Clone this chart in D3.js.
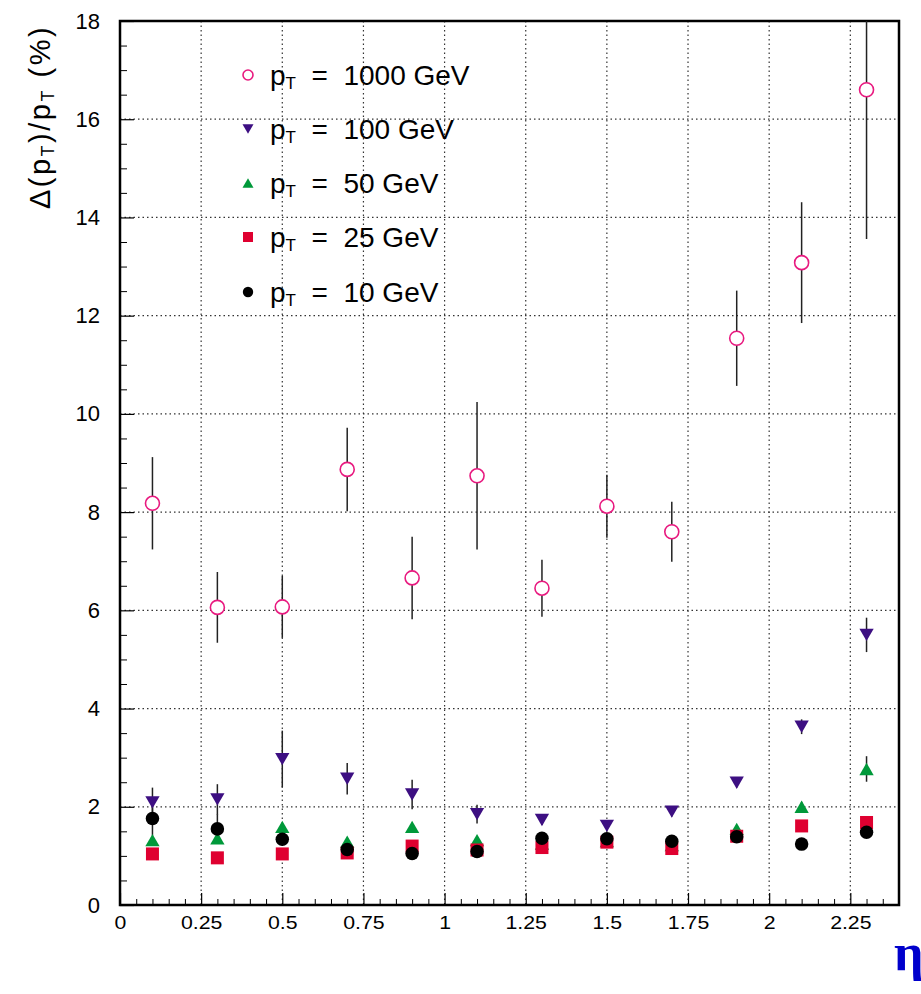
<!DOCTYPE html>
<html>
<head>
<meta charset="utf-8">
<script src="https://cdn.jsdelivr.net/npm/d3@7"></script>
<style>
  body { margin: 0; background: #fff; }
  svg { display: block; font-family: "Liberation Sans", Arial, sans-serif; }
</style>
</head>
<body>
<svg width="921" height="994"></svg>
<script>
// eta bin centres
var eta = [0.1, 0.3, 0.5, 0.7, 0.9, 1.1, 1.3, 1.5, 1.7, 1.9, 2.1, 2.3];

// resolution (%) per pT
var pt1000 = [8.18, 6.06, 6.07, 8.87, 6.66, 8.74, 6.45, 8.12, 7.60, 11.54, 13.08, 16.60];
var err1000 = [0.94, 0.72, 0.63, 0.85, 0.84, 1.50, 0.58, 0.64, 0.61, 0.97, 1.23, 3.04];
var pt100 = [2.09, 2.15, 2.97, 2.57, 2.25, 1.85, 1.73, 1.61, 1.90, 2.49, 3.63, 5.50];
var err100 = [0.30, 0.31, 0.58, 0.32, 0.30, 0.19, 0.10, 0.10, 0.10, 0.10, 0.15, 0.35];
var pt50 = [1.32, 1.36, 1.59, 1.29, 1.59, 1.32, 1.25, 1.30, 1.22, 1.55, 2.00, 2.77];
var err50 = [0, 0, 0, 0, 0, 0, 0, 0, 0, 0, 0.10, 0.26];
var pt25 = [1.04, 0.96, 1.04, 1.06, 1.20, 1.12, 1.17, 1.28, 1.15, 1.40, 1.61, 1.68];
var pt10 = [1.76, 1.55, 1.34, 1.13, 1.05, 1.09, 1.36, 1.35, 1.30, 1.39, 1.24, 1.48];
var err10 = [0.35, 0.30, 0, 0, 0, 0, 0, 0, 0, 0, 0, 0];

var xTicks = [0, 0.25, 0.5, 0.75, 1, 1.25, 1.5, 1.75, 2, 2.25];
var yTicks = [0, 2, 4, 6, 8, 10, 12, 14, 16, 18];
var legendLabels = ["1000 GeV", "100 GeV", "50 GeV", "25 GeV", "10 GeV"];

var plotLeft = 120, plotRight = 899, plotTop = 21, plotBottom = 905;

var svg = d3.select("svg");

var x = d3.scaleLinear().domain([0, 2.4]).range([plotLeft, plotRight]);
var y = d3.scaleLinear().domain([0, 18]).range([plotBottom, plotTop]);

// grid
var grid = svg.append("g")
    .attr("stroke", "#333")
    .attr("stroke-width", 1.2)
    .attr("stroke-dasharray", "1.5,3");
grid.selectAll(".gx").data(xTicks.slice(1))
    .enter().append("line")
    .attr("x1", function (d) { return x(d); })
    .attr("x2", function (d) { return x(d); })
    .attr("y1", plotTop).attr("y2", plotBottom);
grid.selectAll(".gy").data(yTicks.slice(1, -1))
    .enter().append("line")
    .attr("y1", function (d) { return y(d); })
    .attr("y2", function (d) { return y(d); })
    .attr("x1", plotLeft).attr("x2", plotRight);

// Add the X Axis (ticks point inward)
var xMinor = d3.range(0, 2.4001, 0.05).filter(function (d) {
    return Math.abs(d / 0.25 - Math.round(d / 0.25)) > 1e-6;
});
svg.append("g")
    .attr("transform", "translate(0," + plotBottom + ")")
    .call(d3.axisBottom(x).tickValues(xMinor).tickSize(-6).tickFormat(""))
    .call(function (g) { g.select(".domain").remove(); });
var xAxis = svg.append("g")
    .attr("transform", "translate(0," + plotBottom + ")")
    .call(d3.axisBottom(x).tickValues(xTicks).tickSize(-12).tickPadding(0)
        .tickFormat(function (d) { return String(d); }));
xAxis.select(".domain").remove();
xAxis.selectAll("line").attr("stroke-width", 1.2);
xAxis.selectAll("text")
    .attr("y", 24)
    .attr("dy", 0)
    .style("font-size", "19px")
    .style("font-family", "Liberation Sans, Arial, sans-serif")
    .attr("transform", "scale(1.12,1)");

// Add the Y Axis
var yMinor = d3.range(0, 18.001, 0.5).filter(function (d) { return d % 2 !== 0; });
svg.append("g")
    .attr("transform", "translate(" + plotLeft + ",0)")
    .call(d3.axisLeft(y).tickValues(yMinor).tickSize(-7).tickFormat(""))
    .call(function (g) { g.select(".domain").remove(); });
var yAxis = svg.append("g")
    .attr("transform", "translate(" + plotLeft + ",0)")
    .call(d3.axisLeft(y).tickValues(yTicks).tickSize(-14).tickPadding(20));
yAxis.select(".domain").remove();
yAxis.selectAll("text")
    .attr("x", -20)
    .style("font-size", "22px")
    .style("font-family", "Liberation Sans, Arial, sans-serif");
yAxis.selectAll("line").attr("stroke-width", 1.2);

// frame
svg.append("rect")
    .attr("x", plotLeft).attr("y", plotTop)
    .attr("width", plotRight - plotLeft).attr("height", plotBottom - plotTop)
    .attr("fill", "none").attr("stroke", "#000").attr("stroke-width", 2.5);

// clip for error bars
svg.append("clipPath").attr("id", "plotclip")
    .append("rect").attr("x", plotLeft).attr("y", plotTop)
    .attr("width", plotRight - plotLeft).attr("height", plotBottom - plotTop);

var series = [
    { v: pt1000, e: err1000, color: "#e8197f", shape: "open" },
    { v: pt100, e: err100, color: "#3d0f82", shape: "down" },
    { v: pt50, e: err50, color: "#00993a", shape: "up" },
    { v: pt25, e: null, color: "#df0030", shape: "square" },
    { v: pt10, e: err10, color: "#000", shape: "circle" }
];

var plot = svg.append("g").attr("clip-path", "url(#plotclip)");

function drawMarker(g, shape, color, size) {
    if (shape === "open") {
        g.append("circle").attr("r", size / 2).attr("fill", "#fff")
            .attr("stroke", color).attr("stroke-width", 1.6);
    } else if (shape === "circle") {
        g.append("circle").attr("r", size * 0.52).attr("fill", color);
    } else if (shape === "square") {
        g.append("rect").attr("x", -size / 2).attr("y", -size / 2)
            .attr("width", size).attr("height", size).attr("fill", color);
    } else {
        var h = size * 0.95, w = size * 0.55;
        var s = shape === "up" ? -1 : 1;
        g.append("path")
            .attr("d", "M" + (-w) + "," + (-s * h / 2) + "L" + w + "," + (-s * h / 2) + "L0," + (s * h / 2) + "Z")
            .attr("fill", color);
    }
}

// error bars first
series.forEach(function (s) {
    if (!s.e) return;
    var idx = eta.map(function (d, i) { return i; }).filter(function (i) { return s.e[i] > 0; });
    plot.selectAll(null).data(idx)
        .enter().append("line")
        .attr("x1", function (i) { return x(eta[i]); })
        .attr("x2", function (i) { return x(eta[i]); })
        .attr("y1", function (i) { return y(s.v[i] + s.e[i]); })
        .attr("y2", function (i) { return y(s.v[i] - s.e[i]); })
        .attr("stroke", "#222").attr("stroke-width", 1.5);
});

// markers
series.forEach(function (s) {
    plot.selectAll(null).data(s.v)
        .enter().append("g")
        .attr("transform", function (d, i) { return "translate(" + x(eta[i]) + "," + y(d) + ")"; })
        .each(function () {
            drawMarker(d3.select(this), s.shape, s.color, s.shape === "open" ? 14 : 13);
        });
});

// legend
var legend = svg.append("g");
var rowY = [75, 129, 183, 237, 292];
series.forEach(function (s, i) {
    var m = legend.append("g").attr("transform", "translate(248," + rowY[i] + ")");
    drawMarker(m, s.shape, s.color, 10);
    var t = legend.append("text")
        .attr("x", 270).attr("y", rowY[i] + 10)
        .style("font-size", "28px");
    t.append("tspan").text("p");
    t.append("tspan").style("font-size", "17px").attr("dy", 4).text("T");
    t.append("tspan").attr("dy", -4).attr("xml:space", "preserve").text("  =  " + legendLabels[i]);
});

// y axis title
var yt = svg.append("text")
    .attr("transform", "translate(50,117) rotate(-90)")
    .attr("text-anchor", "middle")
    .style("font-size", "29px")
    .attr("letter-spacing", 2.5);
yt.append("tspan").text("\u0394(p");
yt.append("tspan").style("font-size", "18px").attr("dy", 4).text("T");
yt.append("tspan").attr("dy", -4).text(")/p");
yt.append("tspan").style("font-size", "18px").attr("dy", 4).text("T");
yt.append("tspan").attr("dy", -4).text(" (%)");

// x axis title (sits at the right edge, partly cut, as in the original)
svg.append("text")
    .attr("x", 894).attr("y", 970)
    .style("font-family", "Liberation Serif, Times New Roman, serif")
    .style("font-weight", "bold")
    .style("font-size", "52px")
    .attr("fill", "#0000cc")
    .text("\u03b7");
</script>
</body>
</html>
